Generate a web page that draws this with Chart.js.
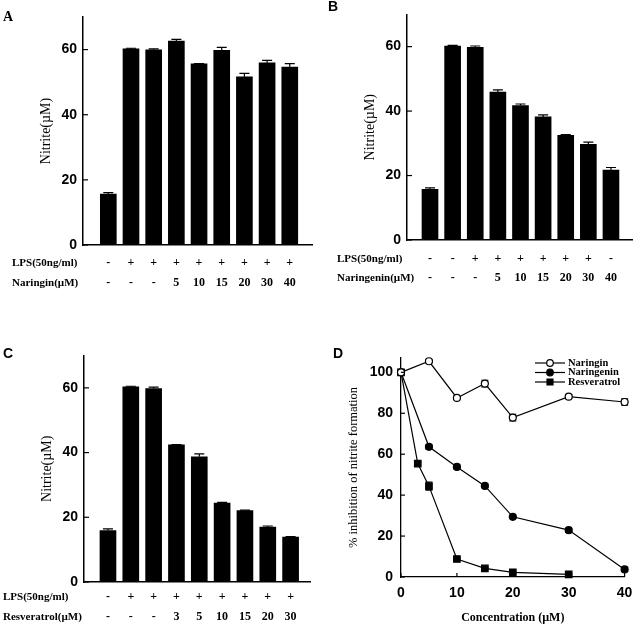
<!DOCTYPE html>
<html>
<head>
<meta charset="utf-8">
<script src="https://cdn.jsdelivr.net/npm/chart.js@4"></script>
<style>
html, body { margin: 0; padding: 0; background: #fff; }
#wrap { position: relative; width: 640px; height: 625px; overflow: hidden; }
.pane { position: absolute; }
.tag { position: absolute; font: bold 14px "Liberation Sans", Arial, sans-serif; line-height: 1; color: #000; }
</style>
</head>
<body>
<div id="wrap">
  <div class="pane" style="left:0;top:0;width:320px;height:312px"><canvas id="cA"></canvas></div>
  <div class="pane" style="left:320px;top:0;width:320px;height:312px"><canvas id="cB"></canvas></div>
  <div class="pane" style="left:0;top:312px;width:320px;height:313px"><canvas id="cC"></canvas></div>
  <div class="pane" style="left:320px;top:312px;width:320px;height:313px"><canvas id="cD"></canvas></div>
  <div class="tag" style="left:3px;top:10px;font-family:'Liberation Serif',serif">A</div>
  <div class="tag" style="left:328px;top:-1px">B</div>
  <div class="tag" style="left:3px;top:346px">C</div>
  <div class="tag" style="left:333px;top:346px">D</div>
</div>
<script>
/* Nitrite production in LPS-stimulated cells: naringin / naringenin / resveratrol (A-C bars),
 * % inhibition vs concentration (D). */
var SANS = '"Liberation Sans", Arial, sans-serif';
var SERIF = '"Liberation Serif", "Times New Roman", serif';
Chart.defaults.color = '#000';

// panel A - naringin
var LPS_A = ['-', '+', '+', '+', '+', '+', '+', '+', '+'];
var DOSE_A = ['-', '-', '-', '5', '10', '15', '20', '30', '40'];
var NITRITE_A = [15.6, 60.2, 59.9, 62.6, 55.6, 59.8, 51.6, 55.9, 54.6];
var ERR_A = [0.5, 0.2, 0.3, 0.5, 0.1, 0.9, 1.1, 0.8, 1.1];

// panel B - naringenin
var LPS_B = ['-', '-', '+', '+', '+', '+', '+', '+', '-'];
var DOSE_B = ['-', '-', '-', '5', '10', '15', '20', '30', '40'];
var NITRITE_B = [15.7, 60.2, 59.8, 45.9, 41.7, 38.2, 32.5, 29.7, 21.7];
var ERR_B = [0.5, 0.2, 0.4, 0.7, 0.5, 0.6, 0.2, 0.7, 0.8];

// panel C - resveratrol
var LPS_C = ['-', '+', '+', '+', '+', '+', '+', '+', '+'];
var DOSE_C = ['-', '-', '-', '3', '5', '10', '15', '20', '30'];
var NITRITE_C = [15.9, 60.3, 59.8, 42.4, 38.7, 24.4, 22.1, 17.0, 13.9];
var ERR_C = [0.5, 0.2, 0.4, 0.1, 0.9, 0.2, 0.1, 0.3, 0.1];

var Y_TICKS_BAR = [0, 20, 40, 60];

// panel D - % inhibition
var CONC_NARINGIN = [0, 5, 10, 15, 20, 30, 40];
var INH_NARINGIN = [100, 105.4, 87.5, 94.5, 77.9, 88.1, 85.5];
var ERR_NARINGIN = [0, 0.8, 0.6, 1.6, 1.6, 1.0, 1.6];
var CONC_NARINGENIN = [0, 5, 10, 15, 20, 30, 40];
var INH_NARINGENIN = [100, 63.6, 53.8, 44.5, 29.4, 22.9, 3.7];
var ERR_NARINGENIN = [0, 1.0, 0.9, 0.9, 0.5, 0.9, 1.0];
var CONC_RESV = [0, 3, 5, 10, 15, 20, 30];
var INH_RESV = [100, 55.4, 44.4, 8.8, 4.2, 2.3, 1.3];
var ERR_RESV = [0, 0.6, 2.0, 0.6, 0.5, 0.4, 0.3];

function xy(xs, ys) { return xs.map(function (x, i) { return { x: x, y: ys[i] }; }); }

// error bars from ds.err, drawn under the marks
var errorBars = {
  id: 'errorBars',
  beforeDatasetsDraw: function (chart, args, o) {
    var ctx = chart.ctx, ys = chart.scales.y;
    ctx.save(); ctx.strokeStyle = '#000'; ctx.lineWidth = o.width || 1.2;
    chart.data.datasets.forEach(function (ds, di) {
      if (!ds.err) return;
      chart.getDatasetMeta(di).data.forEach(function (el, i) {
        var e = ds.err[i]; if (!e) return;
        var v = ds.data[i].y, x = el.x;
        var yt = ys.getPixelForValue(v + e), yb = ys.getPixelForValue(o.upOnly ? v : v - e);
        ctx.beginPath();
        ctx.moveTo(x, yb); ctx.lineTo(x, yt);
        ctx.moveTo(x - o.cap, yt); ctx.lineTo(x + o.cap, yt);
        if (!o.upOnly) { ctx.moveTo(x - o.cap, yb); ctx.lineTo(x + o.cap, yb); }
        ctx.stroke();
      });
    });
    ctx.restore();
  }
};

// short tick marks pointing into the plot
var inTicks = {
  id: 'inTicks',
  afterDraw: function (chart, args, o) {
    var ctx = chart.ctx, a = chart.chartArea;
    ctx.save(); ctx.strokeStyle = '#000'; ctx.lineWidth = 1.2;
    (o.axes || []).forEach(function (id) {
      var s = chart.scales[id];
      s.ticks.forEach(function (t) {
        var p = s.getPixelForValue(t.value);
        ctx.beginPath();
        if (s.isHorizontal()) { ctx.moveTo(p, a.bottom); ctx.lineTo(p, a.bottom - o.len); }
        else { ctx.moveTo(a.left, p); ctx.lineTo(a.left + o.len, p); }
        ctx.stroke();
      });
    });
    ctx.restore();
  }
};

// row headings left of the multi-line x labels
var rowTitles = {
  id: 'rowTitles',
  afterDraw: function (chart, args, o) {
    if (!o.names) return;
    var ctx = chart.ctx, s = chart.scales.x, pad = s.options.ticks.padding;
    ctx.save(); ctx.fillStyle = '#000'; ctx.font = 'bold 11px ' + SERIF;
    ctx.textBaseline = 'middle'; ctx.textAlign = 'left';
    o.names.forEach(function (n, i) { ctx.fillText(n, o.x, s.top + pad + o.lh / 2 + i * o.lh); });
    ctx.restore();
  }
};

// legend: line + marker + label, stacked tight
var lineLegend = {
  id: 'lineLegend',
  afterDraw: function (chart, args, o) {
    var ctx = chart.ctx;
    ctx.save(); ctx.font = 'bold 10.5px ' + SERIF; ctx.textBaseline = 'middle'; ctx.textAlign = 'left';
    chart.data.datasets.forEach(function (ds, i) {
      var y = o.y + i * o.gap, mx = (o.x0 + o.x1) / 2;
      ctx.strokeStyle = '#000'; ctx.lineWidth = 1.2;
      ctx.beginPath(); ctx.moveTo(o.x0, y); ctx.lineTo(o.x1, y); ctx.stroke();
      ctx.fillStyle = ds.pointBackgroundColor;
      ctx.beginPath();
      if (ds.pointStyle === 'rect') ctx.rect(mx - 3, y - 3, 6, 6);
      else ctx.arc(mx, y, 3.3, 0, Math.PI * 2);
      ctx.fill(); ctx.stroke();
      ctx.fillStyle = '#000';
      ctx.fillText(ds.label, o.x1 + 3, y);
    });
    ctx.restore();
  }
};

function barPanel(id, vals, errs, lps, dose, names, g) {
  return new Chart(document.getElementById(id), {
    type: 'bar',
    data: { datasets: [{ data: vals.map(function (v, i) { return { x: i + 1, y: v }; }), err: errs,
      backgroundColor: '#000', borderWidth: 0, barThickness: 16 }] },
    options: {
      responsive: true, maintainAspectRatio: false, animation: false, events: [],
      layout: { autoPadding: false, padding: { left: g.padL, top: g.top, right: g.padR, bottom: 0 } },
      plugins: {
        legend: { display: false }, tooltip: { enabled: false },
        errorBars: { cap: 5, upOnly: true, width: 1.2 },
        inTicks: { axes: ['y'], len: 5 },
        rowTitles: { names: names, x: g.rowX, lh: g.lh }
      },
      scales: {
        x: {
          type: 'linear', min: g.xmin, max: g.xmax, offset: false,
          grid: { drawOnChartArea: false, drawTicks: false },
          border: { color: '#000', width: 1.5 },
          afterBuildTicks: function (s) { s.ticks = vals.map(function (v, i) { return { value: i + 1 }; }); },
          afterFit: function (s) { s.height = g.xh; },
          ticks: { padding: g.tp, autoSkip: false, maxRotation: 0, color: '#000',
            font: { family: SERIF, size: 12, weight: 'bold', lineHeight: g.lh + 'px' },
            callback: function (v) { return [lps[v - 1], dose[v - 1]]; } }
        },
        y: {
          min: 0, max: 70,
          grid: { drawOnChartArea: false, drawTicks: false },
          border: { color: '#000', width: 1.5 },
          afterBuildTicks: function (s) { s.ticks = Y_TICKS_BAR.map(function (v) { return { value: v }; }); },
          afterFit: function (s) { s.width = g.yw; },
          ticks: { padding: 6, color: '#000', font: { family: SANS, size: 14, weight: 'bold' } },
          title: { display: true, text: 'Nitrite(µM)', color: '#000', padding: { top: g.tpad, bottom: 0 },
            font: { family: SERIF, size: 14 } }
        }
      }
    },
    plugins: [errorBars, inTicks, rowTitles]
  });
}

barPanel('cA', NITRITE_A, ERR_A, LPS_A, DOSE_A, ['LPS(50ng/ml)', 'Naringin(µM)'],
  { padL: 30, tpad: 8, yw: 53, top: 17, padR: 8, xh: 67, xmin: -0.116, xmax: 9.98, tp: 8, lh: 20, rowX: 12 });
barPanel('cB', NITRITE_B, ERR_B, LPS_B, DOSE_B, ['LPS(50ng/ml)', 'Naringenin(µM)'],
  { padL: 33, tpad: 8.6, yw: 54, top: 12.5, padR: 8, xh: 72, xmin: -0.017, xmax: 9.93, tp: 9.5, lh: 19, rowX: 17 });
barPanel('cC', NITRITE_C, ERR_C, LPS_C, DOSE_C, ['LPS(50ng/ml)', 'Resveratrol(µM)'],
  { padL: 30, tpad: 8.6, yw: 54, top: 43.5, padR: 10, xh: 43, xmin: -0.05, xmax: 9.85, tp: 5, lh: 20, rowX: 3 });

function lineSet(label, xs, ys, errs, style, fill, r) {
  return { label: label, data: xy(xs, ys), err: errs, borderColor: '#000', borderWidth: 1.2,
    pointStyle: style, pointRadius: r, pointBackgroundColor: fill, pointBorderColor: '#000',
    pointBorderWidth: 1.2, clip: false, tension: 0, fill: false };
}

new Chart(document.getElementById('cD'), {
  type: 'line',
  data: { datasets: [
    lineSet('Naringin', CONC_NARINGIN, INH_NARINGIN, ERR_NARINGIN, 'circle', '#fff', 3.5),
    lineSet('Naringenin', CONC_NARINGENIN, INH_NARINGENIN, ERR_NARINGENIN, 'circle', '#000', 3.5),
    lineSet('Resveratrol', CONC_RESV, INH_RESV, ERR_RESV, 'rect', '#000', 4.6)
  ] },
  options: {
    responsive: true, maintainAspectRatio: false, animation: false, events: [],
    layout: { autoPadding: false, padding: { left: 20, top: 46, right: 9, bottom: 0 } },
    plugins: {
      legend: { display: false }, tooltip: { enabled: false },
      errorBars: { cap: 3.5, upOnly: false, width: 1.1 },
      inTicks: { axes: ['x', 'y'], len: 4 },
      lineLegend: { x0: 215, x1: 245, y: 51, gap: 9.5 }
    },
    scales: {
      x: {
        type: 'linear', min: 0, max: 40,
        grid: { drawOnChartArea: false, drawTicks: false },
        border: { color: '#000', width: 1.3 },
        afterBuildTicks: function (s) { s.ticks = [0, 10, 20, 30, 40].map(function (v) { return { value: v }; }); },
        afterFit: function (s) { s.height = 48; },
        ticks: { padding: 7.6, color: '#000', maxRotation: 0, font: { family: SANS, size: 14, weight: 'bold' } },
        title: { display: true, text: 'Concentration (µM)', color: '#000', padding: 0,
          font: { family: SERIF, size: 12, weight: 'bold' } }
      },
      y: {
        min: 0, max: 107,
        grid: { drawOnChartArea: false, drawTicks: false },
        border: { color: '#000', width: 1.3 },
        afterBuildTicks: function (s) { s.ticks = [0, 20, 40, 60, 80, 100].map(function (v) { return { value: v }; }); },
        afterFit: function (s) { s.width = 61; },
        ticks: { padding: 8, color: '#000', font: { family: SANS, size: 14, weight: 'bold' } },
        title: { display: true, text: '% inhibition of nitrite formation', color: '#000',
          padding: { top: 5.8, bottom: 0 }, font: { family: SERIF, size: 12.5 } }
      }
    }
  },
  plugins: [errorBars, inTicks, lineLegend]
});
</script>
</body>
</html>
